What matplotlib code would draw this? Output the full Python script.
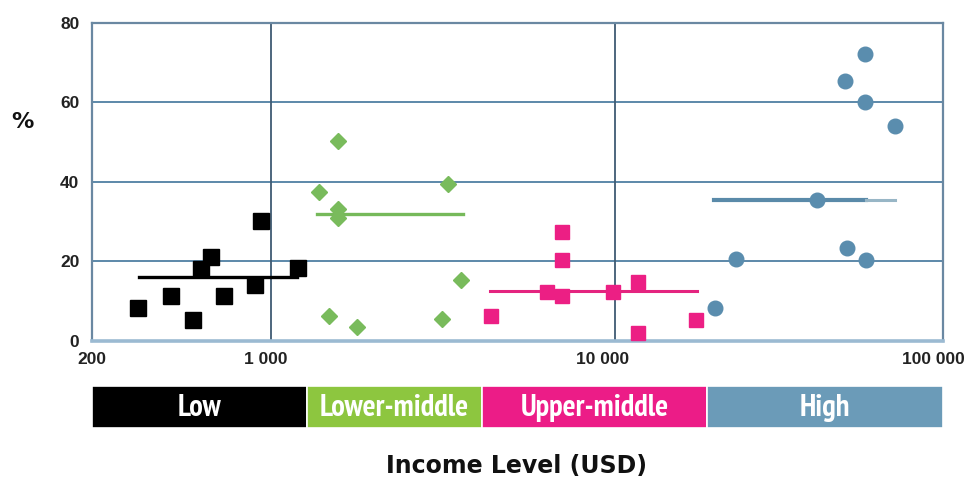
import numpy as np
import matplotlib
matplotlib.use("Agg")
import matplotlib.pyplot as plt
import matplotlib.transforms as mtransforms
from matplotlib import font_manager as fm

# ---------------- data ----------------
X_MIN, X_MAX = 300.0, 90400.0
x_ticks = [X_MIN, 1000, 10000, X_MAX]
x_tick_labels = ["200", "1 000", "10 000", "100 000"]
y_ticks = [0, 20, 40, 60, 80]
y_tick_labels = ["0", "20", "40", "60", "80"]

low_x = [408, 508, 589, 625, 668, 726, 894, 929, 1196]
low_y = [8.4, 11.4, 5.3, 18.0, 21.2, 11.4, 14.2, 30.2, 18.3]
low_line_x = [410, 1190]
low_line_y = 16.2

lm_x = [1563, 1376, 3260, 1563, 1563, 3563, 1472, 1776, 3143]
lm_y = [50.2, 37.4, 39.4, 33.3, 30.8, 15.3, 6.4, 3.6, 5.5]
lm_line_x = [1356, 3606]
lm_line_y = 31.8

um_x = [4351, 7008, 7008, 6335, 7008, 9908, 11670, 11670, 17230]
um_y = [6.4, 27.5, 20.4, 12.4, 11.4, 12.2, 14.9, 2.1, 5.4]
um_line_x = [4340, 17360]
um_line_y = 12.6

hi_x = [53700, 46900, 53700, 65300, 38900, 22540, 47500, 53900, 19600]
hi_y = [72.1, 65.3, 60.1, 54.1, 35.4, 20.6, 23.3, 20.4, 8.4]
hi_line_x = [19400, 54000, 65500]
hi_line_y = 35.4

groups = ["Low", "Lower-middle", "Upper-middle", "High"]
group_bounds = [X_MIN, 1270, 4100, 18600, X_MAX]
group_colors = ["#000000", "#8dc63f", "#ec1c87", "#6b9bb8"]

# ---------------- fonts ----------------
def pick_narrow():
    for f in fm.fontManager.ttflist:
        if "Narrow" in f.name and f.weight in ("bold", 700):
            return fm.FontProperties(fname=f.fname)
    for f in fm.fontManager.ttflist:
        if "Narrow" in f.name:
            return fm.FontProperties(fname=f.fname, weight="bold")
    return fm.FontProperties(family="DejaVu Sans", weight="bold",
                             stretch="condensed")

NARROW_FP = pick_narrow()

def narrow(size):
    fp = NARROW_FP.copy()
    fp.set_size(size)
    return fp

BOLD = ["Liberation Sans", "DejaVu Sans"]

# ---------------- figure ----------------
W, H = 968, 482
fig = plt.figure(figsize=(W / 100, H / 100), dpi=100)
fig.patch.set_facecolor("white")

ax = fig.add_axes([92 / W, 1 - 341 / H, 851 / W, (341 - 22.7) / H])
ax.set_xscale("log")
ax.set_xlim(X_MIN, X_MAX)
ax.set_ylim(0, 80)

# grid
for yv in [20, 40, 60]:
    ax.axhline(yv, color="#4f7fa2", lw=1.3, zorder=1)
for xv in [1000, 10000]:
    ax.axvline(xv, color="#3f5b73", lw=1.3, zorder=1)

for s in ["top", "left", "right"]:
    ax.spines[s].set_color("#6a88a2")
    ax.spines[s].set_linewidth(1.6)
ax.spines["bottom"].set_color("#9bbad2")
ax.spines["bottom"].set_linewidth(2.6)

# data
ax.plot(low_line_x, [low_line_y] * 2, color="#000000", lw=2.4, zorder=3)
ax.plot(low_x, low_y, "s", color="#000000", ms=11.5, zorder=4, ls="none")

ax.plot(lm_line_x, [lm_line_y] * 2, color="#76b95a", lw=2.4, zorder=3)
ax.plot(lm_x, lm_y, "D", color="#79bb5c", ms=8, zorder=4, ls="none")

ax.plot(um_line_x, [um_line_y] * 2, color="#e4247f", lw=2.2, zorder=3)
ax.plot(um_x, um_y, "s", color="#ec1f84", ms=10.5, zorder=4, ls="none")

ax.plot(hi_line_x[:2], [hi_line_y] * 2, color="#5a8aa9", lw=3, zorder=3)
ax.plot(hi_line_x[1:], [hi_line_y] * 2, color="#98b6c6", lw=2.2, zorder=3)
ax.plot(hi_x, hi_y, "o", color="#5a8dae", ms=10.5, zorder=4, ls="none")

# ticks
ax.minorticks_off()
ax.set_xticks(x_ticks)
ax.set_xticklabels(x_tick_labels)
ax.set_yticks(y_ticks)
ax.set_yticklabels(y_tick_labels)
ax.tick_params(axis="both", length=0, labelsize=12.5, colors="#222222")
ax.tick_params(axis="x", pad=8)
ax.tick_params(axis="y", pad=9)
for lab in ax.get_xticklabels() + ax.get_yticklabels():
    lab.set_family(BOLD)
    lab.set_fontweight("bold")

xlabs = ax.get_xticklabels()
shifts = [0, -6, -12, -10]
for lab, dx in zip(xlabs, shifts):
    lab.set_transform(lab.get_transform() +
                      mtransforms.ScaledTranslation(dx / 100, 0,
                                                    fig.dpi_scale_trans))

fig.text(22 / W, 1 - 122 / H, "%", ha="center", va="center",
         fontsize=16, fontweight="bold", family="DejaVu Sans", color="#111111")

# category bar
bax = fig.add_axes([92 / W, 1 - 428 / H, 851 / W, 42 / H])
bax.set_xscale("log")
bax.set_xlim(X_MIN, X_MAX)
bax.set_ylim(0, 1)
bax.axis("off")
for i, g in enumerate(groups):
    x0, x1 = group_bounds[i], group_bounds[i + 1]
    bax.barh(0.5, x1 - x0, left=x0, height=1.0, color=group_colors[i],
             edgecolor="white", linewidth=1.2)
    bax.text(np.sqrt(x0 * x1), 0.47, g, ha="center", va="center",
             color="white", fontproperties=narrow(22))

fig.text(517 / W, 1 - 466 / H, "Income Level (USD)", ha="center", va="center",
         fontsize=17, fontweight="bold", family="DejaVu Sans",
         color="#111111")

fig.savefig("out.png", dpi=100)
